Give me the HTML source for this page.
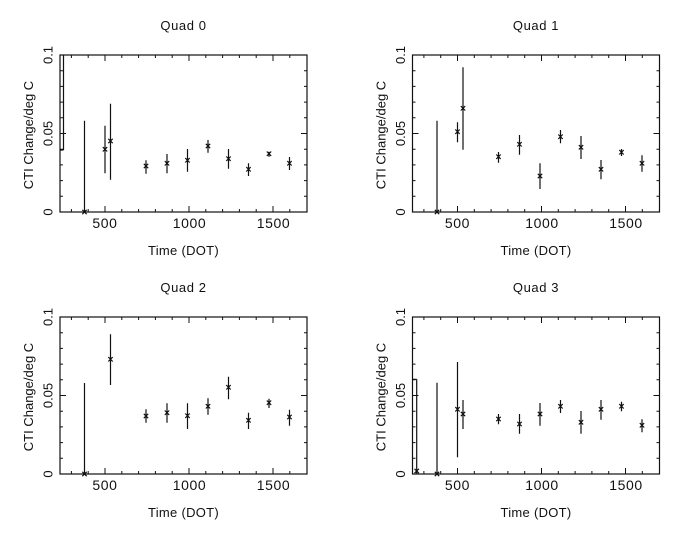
<!DOCTYPE html>
<html><head><meta charset="utf-8"><style>
html,body{margin:0;padding:0;background:#fff;}
svg{display:block;}
text{font-family:"Liberation Sans","DejaVu Sans",sans-serif;font-size:13px;fill:#111;}
text.xt{font-size:14px;letter-spacing:0.6px;}
</style></head><body>
<svg width="681" height="540" viewBox="0 0 681 540" xmlns="http://www.w3.org/2000/svg">
<defs>
<g id="axes">
<rect x="60" y="55" width="247" height="157" fill="none" stroke="#111" stroke-width="1.2"/>
<path stroke="#111" stroke-width="1" fill="none" d="
M71.4 212V209 M88.2 212V209 M105 212V206 M121.8 212V209 M138.6 212V209 M155.4 212V209 M172.2 212V209 M189 212V206 M205.8 212V209 M222.6 212V209 M239.4 212V209 M256.2 212V209 M273 212V206 M289.8 212V209
M71.4 55V58 M88.2 55V58 M105 55V61 M121.8 55V58 M138.6 55V58 M155.4 55V58 M172.2 55V58 M189 55V61 M205.8 55V58 M222.6 55V58 M239.4 55V58 M256.2 55V58 M273 55V61 M289.8 55V58
M60 196.3H63 M60 180.6H63 M60 164.9H63 M60 149.2H63 M60 133.5H66 M60 117.8H63 M60 102.1H63 M60 86.4H63 M60 70.7H63
M307 196.3H304 M307 180.6H304 M307 164.9H304 M307 149.2H304 M307 133.5H301 M307 117.8H304 M307 102.1H304 M307 86.4H304 M307 70.7H304"/>
<text class="xt" x="105" y="228" text-anchor="middle">500</text>
<text class="xt" x="189.5" y="228" text-anchor="middle">1000</text>
<text class="xt" x="273.5" y="228" text-anchor="middle">1500</text>
<text transform="translate(52.5,212) rotate(-90)" text-anchor="middle">0</text>
<text transform="translate(52.5,133.5) rotate(-90)" text-anchor="middle">0.05</text>
<text transform="translate(52.5,55) rotate(-90)" text-anchor="middle">0.1</text>
<text transform="translate(32.8,135) rotate(-90)" text-anchor="middle">CTI Change/deg C</text>
<text x="183.5" y="255" text-anchor="middle" letter-spacing="0.3">Time (DOT)</text>
</g>
</defs>

<!-- Quad 0 -->
<g>
<use href="#axes"/>
<text x="183.5" y="30" text-anchor="middle" letter-spacing="0.6">Quad 0</text>
<path stroke="#111" stroke-width="1.2" fill="none" d="
M63.5 55V150 M60 150H63.5
M84.5 120.7V212 M82.3 209.8l4.4 4.4 M86.7 209.8l-4.4 4.4
M105 125.7V173.3 M102.8 147.1l4.4 4.4 M107.2 147.1l-4.4 4.4
M110.5 103.7V179.7 M108.3 138.8l4.4 4.4 M112.7 138.8l-4.4 4.4
M146 160.3V173.7 M143.8 163.8l4.4 4.4 M148.2 163.8l-4.4 4.4
M167 154V173.3 M164.8 161.1l4.4 4.4 M169.2 161.1l-4.4 4.4
M187.5 149V171.7 M185.3 158.1l4.4 4.4 M189.7 158.1l-4.4 4.4
M208 140V152.7 M205.8 143.8l4.4 4.4 M210.2 143.8l-4.4 4.4
M228.5 149V168.7 M226.3 156.5l4.4 4.4 M230.7 156.5l-4.4 4.4
M248.5 163.3V176 M246.3 167.1l4.4 4.4 M250.7 167.1l-4.4 4.4
M269 151.7V156.7 M266.8 151.5l4.4 4.4 M271.2 151.5l-4.4 4.4
M289.5 157V170 M287.3 161.1l4.4 4.4 M291.7 161.1l-4.4 4.4"/>
</g>

<!-- Quad 1 -->
<g transform="translate(352.5,0)">
<use href="#axes"/>
<text x="183.5" y="30" text-anchor="middle" letter-spacing="0.6">Quad 1</text>
<path stroke="#111" stroke-width="1.2" fill="none" d="
M84.5 120.7V212 M82.3 209.8l4.4 4.4 M86.7 209.8l-4.4 4.4
M105 122.3V142.3 M102.8 129.5l4.4 4.4 M107.2 129.5l-4.4 4.4
M110.5 67.3V149.7 M108.3 106.1l4.4 4.4 M112.7 106.1l-4.4 4.4
M146 152V162.7 M143.8 154.5l4.4 4.4 M148.2 154.5l-4.4 4.4
M167 135V154.7 M164.8 142.1l4.4 4.4 M169.2 142.1l-4.4 4.4
M187.5 163.3V189 M185.3 173.8l4.4 4.4 M189.7 173.8l-4.4 4.4
M208 130V143.3 M205.8 134.5l4.4 4.4 M210.2 134.5l-4.4 4.4
M228.5 136V159 M226.3 145.1l4.4 4.4 M230.7 145.1l-4.4 4.4
M248.5 160V179.3 M246.3 167.1l4.4 4.4 M250.7 167.1l-4.4 4.4
M269 149V156 M266.8 150.1l4.4 4.4 M271.2 150.1l-4.4 4.4
M289.5 155.3V171.7 M287.3 161.1l4.4 4.4 M291.7 161.1l-4.4 4.4"/>
</g>

<!-- Quad 2 -->
<g transform="translate(0,262)">
<use href="#axes"/>
<text x="183.5" y="30" text-anchor="middle" letter-spacing="0.6">Quad 2</text>
<path stroke="#111" stroke-width="1.2" fill="none" d="
M84.5 121V212 M82.3 209.8l4.4 4.4 M86.7 209.8l-4.4 4.4
M110.5 72.3V123 M108.3 95.1l4.4 4.4 M112.7 95.1l-4.4 4.4
M146 147.3V160.7 M143.8 151.8l4.4 4.4 M148.2 151.8l-4.4 4.4
M167 141.3V160.7 M164.8 148.5l4.4 4.4 M169.2 148.5l-4.4 4.4
M187.5 141.3V167 M185.3 151.5l4.4 4.4 M189.7 151.5l-4.4 4.4
M208 136.3V152.7 M205.8 142.1l4.4 4.4 M210.2 142.1l-4.4 4.4
M228.5 114.7V137.3 M226.3 123.1l4.4 4.4 M230.7 123.1l-4.4 4.4
M248.5 150.7V167 M246.3 156.1l4.4 4.4 M250.7 156.1l-4.4 4.4
M269 136.7V146 M266.8 138.5l4.4 4.4 M271.2 138.5l-4.4 4.4
M289.5 147.7V163.7 M287.3 152.8l4.4 4.4 M291.7 152.8l-4.4 4.4"/>
</g>

<!-- Quad 3 -->
<g transform="translate(352.5,262)">
<use href="#axes"/>
<text x="183.5" y="30" text-anchor="middle" letter-spacing="0.6">Quad 3</text>
<path stroke="#111" stroke-width="1.2" fill="none" d="
M64.2 117.3V212 M60 117.3H64.2 M62 206.8l4.4 4.4 M66.4 206.8l-4.4 4.4
M84.5 120.7V212 M82.3 209.8l4.4 4.4 M86.7 209.8l-4.4 4.4
M105 100V195.3 M102.8 145.1l4.4 4.4 M107.2 145.1l-4.4 4.4
M110.5 138V167 M108.3 149.8l4.4 4.4 M112.7 149.8l-4.4 4.4
M146 152V162.3 M143.8 154.8l4.4 4.4 M148.2 154.8l-4.4 4.4
M167 152V171.7 M164.8 159.8l4.4 4.4 M169.2 159.8l-4.4 4.4
M187.5 141V163.7 M185.3 149.8l4.4 4.4 M189.7 149.8l-4.4 4.4
M208 138V151 M205.8 142.1l4.4 4.4 M210.2 142.1l-4.4 4.4
M228.5 149V171.7 M226.3 158.1l4.4 4.4 M230.7 158.1l-4.4 4.4
M248.5 138V157.7 M246.3 145.1l4.4 4.4 M250.7 145.1l-4.4 4.4
M269 139.7V149.3 M266.8 142.1l4.4 4.4 M271.2 142.1l-4.4 4.4
M289.5 157.3V170.3 M287.3 161.1l4.4 4.4 M291.7 161.1l-4.4 4.4"/>
</g>
</svg>
</body></html>
